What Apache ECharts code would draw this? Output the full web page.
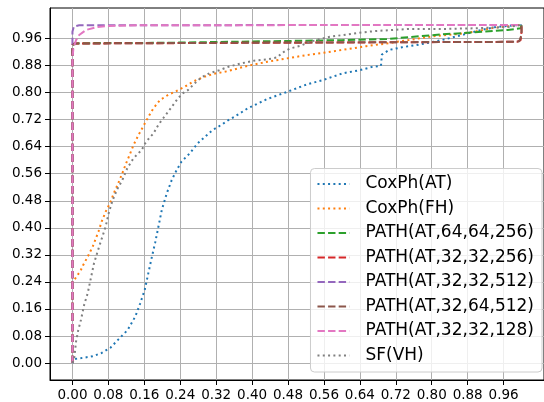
<!DOCTYPE html>
<html>
<head>
<meta charset="utf-8">
<script src="https://cdn.jsdelivr.net/npm/echarts@6/dist/echarts.min.js"></script>
<style>
  html, body { margin: 0; padding: 0; background: #fff; }
  #chart { width: 544px; height: 402px; }
</style>
</head>
<body>
<div id="chart"></div>
<script>
// tick labels
const xTicks = [0, 0.08, 0.16, 0.24, 0.32, 0.40, 0.48, 0.56, 0.64, 0.72, 0.80, 0.88, 0.96]
const yTicks = [0, 0.08, 0.16, 0.24, 0.32, 0.40, 0.48, 0.56, 0.64, 0.72, 0.80, 0.88, 0.96]

const seriesNames = [
  'CoxPh(AT)', 'CoxPh(FH)', 'PATH(AT,64,64,256)', 'PATH(AT,32,32,256)',
  'PATH(AT,32,32,512)', 'PATH(AT,32,64,512)', 'PATH(AT,32,32,128)', 'SF(VH)',
]

// [fpr, tpr] pairs
const coxphAT = [
  [0, 0], [0.004, 0.012], [0.02, 0.015], [0.045, 0.02], [0.065, 0.03], [0.085, 0.046],
  [0.103, 0.071], [0.123, 0.098], [0.14, 0.138], [0.151, 0.177], [0.161, 0.217],
  [0.169, 0.266], [0.177, 0.315], [0.184, 0.355], [0.19, 0.394], [0.199, 0.453],
  [0.21, 0.502], [0.221, 0.541], [0.232, 0.571], [0.243, 0.596], [0.261, 0.62],
  [0.279, 0.65], [0.294, 0.668], [0.312, 0.689], [0.331, 0.704], [0.349, 0.72],
  [0.36, 0.728], [0.39, 0.753], [0.434, 0.781], [0.478, 0.802], [0.522, 0.824],
  [0.558, 0.837], [0.602, 0.857], [0.639, 0.866], [0.668, 0.876], [0.687, 0.879],
  [0.689, 0.912], [0.705, 0.926], [0.734, 0.934], [0.764, 0.94], [0.793, 0.947],
  [0.822, 0.955], [0.852, 0.965], [0.881, 0.975], [0.91, 0.985], [0.94, 0.993],
  [0.969, 0.997], [1, 1],
]
const coxphFH = [
  [0, 0], [0, 0.24], [0.004, 0.246], [0.012, 0.261], [0.019, 0.276], [0.024, 0.29],
  [0.034, 0.315], [0.045, 0.344], [0.058, 0.389], [0.065, 0.418], [0.074, 0.448],
  [0.084, 0.474], [0.092, 0.502], [0.102, 0.532], [0.111, 0.561], [0.118, 0.586],
  [0.128, 0.618], [0.136, 0.645], [0.147, 0.674], [0.158, 0.701], [0.169, 0.728],
  [0.18, 0.753], [0.195, 0.778], [0.213, 0.793], [0.232, 0.805], [0.25, 0.817],
  [0.268, 0.832], [0.29, 0.845], [0.313, 0.855], [0.345, 0.863], [0.39, 0.879],
  [0.434, 0.891], [0.478, 0.901], [0.522, 0.911], [0.566, 0.919], [0.61, 0.928],
  [0.654, 0.937], [0.698, 0.945], [0.748, 0.955], [0.8, 0.966], [0.858, 0.973],
  [0.896, 0.98], [0.932, 0.99], [0.969, 0.996], [1, 1],
]
const path64_64_256 = [
  [0, 0], [0, 0.935], [0.004, 0.945], [0.02, 0.946], [0.2, 0.947], [0.4, 0.951],
  [0.5, 0.953], [0.6, 0.955], [0.7, 0.958], [0.75, 0.964], [0.822, 0.972],
  [0.896, 0.978], [0.969, 0.985], [0.998, 0.99], [1, 1],
]
const path32_32_256 = [
  [0, 0], [0, 0.943], [0.005, 0.945], [0.99, 0.95], [0.998, 0.955], [1, 0.98], [1, 1],
]
const path32_32_512 = [
  [0, 0], [0, 0.98], [0.003, 0.995], [0.015, 0.999], [1, 1],
]
const path32_64_512 = [
  [0, 0], [0, 0.94], [0.006, 0.945], [0.5, 0.948], [0.985, 0.95], [0.995, 0.952], [1, 0.97], [1, 1],
]
const path32_32_128 = [
  [0, 0], [0, 0.9], [0.002, 0.93], [0.008, 0.955], [0.015, 0.97], [0.03, 0.985],
  [0.052, 0.993], [0.081, 0.997], [0.15, 0.999], [1, 1],
]
const sfVH = [
  [0, 0], [0.004, 0.015], [0.008, 0.064], [0.013, 0.098], [0.019, 0.128], [0.026, 0.172],
  [0.034, 0.207], [0.041, 0.251], [0.048, 0.295], [0.056, 0.33], [0.063, 0.359],
  [0.074, 0.404], [0.081, 0.445], [0.089, 0.48], [0.1, 0.515], [0.111, 0.541],
  [0.122, 0.576], [0.136, 0.606], [0.154, 0.63], [0.162, 0.65], [0.173, 0.669],
  [0.18, 0.678], [0.191, 0.704], [0.202, 0.724], [0.213, 0.743], [0.224, 0.763],
  [0.235, 0.783], [0.246, 0.798], [0.257, 0.807], [0.272, 0.827], [0.287, 0.845],
  [0.305, 0.857], [0.327, 0.866], [0.349, 0.877], [0.375, 0.886], [0.404, 0.894],
  [0.434, 0.898], [0.456, 0.904], [0.466, 0.916], [0.474, 0.923], [0.484, 0.93],
  [0.507, 0.938], [0.529, 0.95], [0.551, 0.958], [0.573, 0.965], [0.602, 0.97],
  [0.639, 0.977], [0.676, 0.982], [0.749, 0.988], [0.822, 0.988], [0.896, 0.99],
  [0.969, 0.994], [1, 1],
]

const seriesData = [coxphAT, coxphFH, path64_64_256, path32_32_256, path32_32_512, path32_64_512, path32_32_128, sfVH]
const colors = ['#1f77b4', '#ff7f0e', '#2ca02c', '#d62728', '#9467bd', '#8c564b', '#e377c2', '#7f7f7f']
const dotted = [2, 3.3]
const dashed = [7.4, 3.2]
const lineTypes = [dotted, dotted, dashed, dashed, dashed, dashed, dashed, dotted]

const font = "'DejaVu Sans', sans-serif"

const chart = echarts.init(document.getElementById('chart'), null, { renderer: 'canvas' })

function axisCommon(ticks) {
  return {
    type: 'value',
    min: -0.05,
    max: 1.05,
    axisLine: { show: true, onZero: false, lineStyle: { color: '#000', width: 1 } },
    axisTick: { show: true, inside: false, length: 5, customValues: ticks, lineStyle: { color: '#000', width: 1 } },
    axisLabel: {
      customValues: ticks,
      color: '#000',
      fontSize: 13.5,
      fontFamily: font,
      margin: 8,
      formatter: (v) => v.toFixed(2),
    },
    splitLine: { show: true, lineStyle: { color: '#b0b0b0', width: 1 } },
  }
}

chart.setOption({
  backgroundColor: '#fff',
  animation: false,
  grid: {
    left: 50, right: -6, top: 8, bottom: 22,
    show: true, borderColor: '#000', borderWidth: 1,
  },
  xAxis: axisCommon(xTicks),
  yAxis: axisCommon(yTicks),
  legend: {
    orient: 'vertical',
    right: 2,
    bottom: 30,
    itemWidth: 32,
    itemHeight: 16,
    itemGap: 7.5,
    padding: [7, 8, 8, 6],
    backgroundColor: 'rgba(255,255,255,0.8)',
    borderColor: '#cccccc',
    borderWidth: 1,
    borderRadius: 4,
    itemStyle: { opacity: 0 },
    textStyle: { color: '#000', fontSize: 17, fontFamily: font, padding: [0, 0, 0, 11] },
    data: seriesNames,
  },
  series: seriesNames.map((name, i) => ({
    name,
    type: 'line',
    data: seriesData[i],
    showSymbol: false,
    symbol: 'none',
    clip: true,
    color: colors[i],
    lineStyle: { color: colors[i], width: 2, type: lineTypes[i], cap: 'butt' },
  })),
})
</script>
</body>
</html>
